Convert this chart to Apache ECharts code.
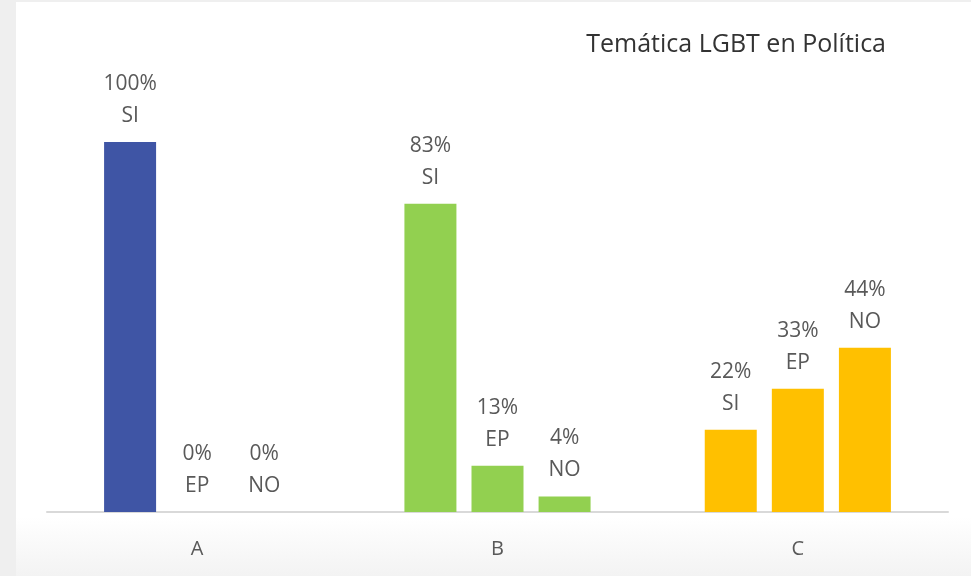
<!DOCTYPE html>
<html>
<head>
<meta charset="utf-8">
<script src="https://cdn.jsdelivr.net/npm/echarts@6/dist/echarts.min.js"></script>
<style>
  html, body { margin: 0; padding: 0; background: #efefef; }
  #myCharts {
    position: absolute; left: 16px; top: 2px; width: 955px; height: 574px;
    background: linear-gradient(to bottom, #ffffff 0px, #ffffff 515px, #f3f3f3 574px);
  }
</style>
</head>
<body>
<div id="myCharts"></div>
<script>
  // datos
  var categorias = ['A', 'B', 'C'];
  var series = ['SI', 'EP', 'NO'];
  // porcentaje por categoria, en el orden SI / EP / NO
  var valoresSI = [100, 83.3, 22.2];
  var valoresEP = [0, 12.5, 33.3];
  var valoresNO = [0, 4.2, 44.4];
  var colores = ['#3f55a5', '#92d050', '#ffc000'];

  var valores = [valoresSI, valoresEP, valoresNO];

  var myCharts = echarts.init(document.getElementById('myCharts'));
  var options = {
    backgroundColor: 'transparent',
    animation: false,
    title: {
      text: 'Temática LGBT en Política',
      right: 80,
      top: 25,
      textStyle: {
        fontFamily: 'Open Sans',
        fontSize: 25,
        fontWeight: 'normal',
        color: '#333333'
      }
    },
    grid: {
      left: 31,
      right: 23,
      top: 140,
      bottom: 64
    },
    xAxis: {
      type: 'category',
      data: categorias,
      axisLine: { lineStyle: { color: '#d9d9d9', width: 2 } },
      axisTick: { show: false },
      axisLabel: {
        margin: 27,
        fontFamily: 'Open Sans',
        fontSize: 20,
        color: '#595959'
      }
    },
    yAxis: {
      type: 'value',
      min: 0,
      max: 100,
      show: false
    },
    series: series.map(function (nombre, i) {
      return {
        name: nombre,
        type: 'bar',
        barWidth: 52,
        barGap: '29%',
        data: valores[i].map(function (v, j) {
          return { value: v, itemStyle: { color: colores[j] } };
        }),
        label: {
          show: true,
          position: 'top',
          distance: 10,
          fontFamily: 'Open Sans',
          fontSize: 21,
          lineHeight: 32,
          color: '#595959',
          formatter: function (p) {
            return Math.round(p.value) + '%\n' + p.seriesName;
          }
        }
      };
    })
  };
  myCharts.setOption(options);
</script>
</body>
</html>
